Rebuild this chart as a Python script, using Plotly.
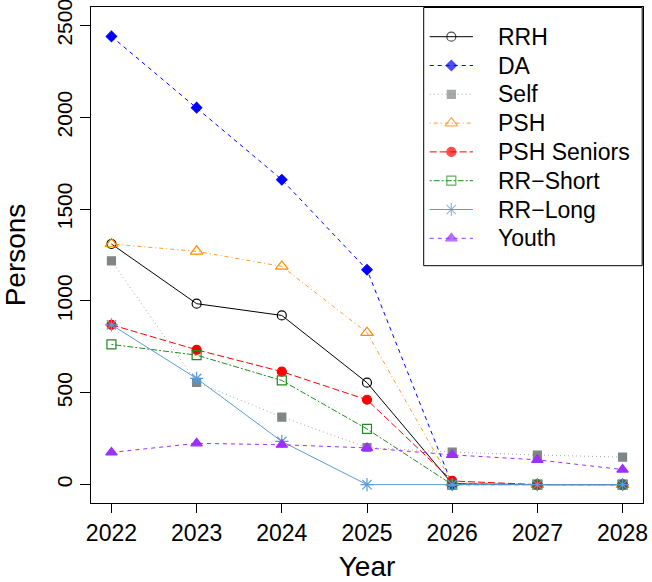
import plotly.graph_objects as go

years = [2022, 2023, 2024, 2025, 2026, 2027, 2028]

rrh = [1310, 985, 921, 555, 5, 0, 0]
da = [2440, 2052, 1660, 1170, 0, 0, 0]
self_res = [1218, 557, 368, 202, 177, 161, 150]
psh = [1310, 1270, 1188, 827, 10, 0, 0]
psh_seniors = [870, 734, 615, 462, 20, 0, 0]
rr_short = [763, 705, 567, 303, 0, 0, 0]
rr_long = [870, 578, 235, 0, 0, 0, 0]
youth = [175, 225, 217, 200, 162, 135, 82]

series_names = ["RRH", "DA", "Self", "PSH", "PSH Seniors", "RR\u2212Short", "RR\u2212Long", "Youth"]
series_values = [rrh, da, self_res, psh, psh_seniors, rr_short, rr_long, youth]

# (line colour, marker colour, dash pattern, marker symbol, marker size)
styles = [
    ("#000000", "#000000", "solid", "circle-open", 9),
    ("#0000FF", "#0000FF", "4px,4px", "diamond", 8),
    ("#A8A8A8", "#808585", "1px,3px", "square", 8),
    ("#FF9A30", "#FF8C00", "1px,3px,4px,3px", "triangle-up-open", 11),
    ("#FF0000", "#FF0000", "7px,3px", "circle", 9),
    ("#228B22", "#228B22", "2px,2px,6px,2px", "square-open", 9),
    ("#5B9BD5", "#5B9BD5", "solid", "asterisk-open", 11),
    ("#9B30FF", "#9B30FF", "4px,4px", "triangle-up", 10),
]

FONT = "Liberation Sans, Arial, Helvetica, sans-serif"

# plot region in pixels (left, right, top, bottom)
W, H = 652, 582
L, R, T, B = 91, 643.5, 7, 503

fig = go.Figure()
for name, vals, (lc, mc, dash, sym, size) in zip(series_names, series_values, styles):
    fig.add_trace(go.Scatter(
        x=years, y=vals, name=name, mode="lines+markers", showlegend=False,
        line=dict(color=lc, width=1, dash=dash),
        marker=dict(symbol=sym, size=size, color=mc,
                    line=dict(color=mc, width=1.2)),
    ))

# legend drawn on an overlay axis measured in pixels
leg_left, leg_right, leg_top, leg_bottom = 424, 642.7, 7.5, 265.7
row0, row_step = 36.7, 28.8
sample_x0, sample_x1, text_x = 430, 473.3, 496

fig.add_shape(type="rect", xref="x2", yref="y2",
              x0=leg_left, x1=leg_right, y0=leg_top, y1=leg_bottom,
              line=dict(color="black", width=1), fillcolor="white", layer="below")

for i, (name, (lc, mc, dash, sym, size)) in enumerate(zip(series_names, styles)):
    ry = row0 + i * row_step
    xm = (sample_x0 + sample_x1) / 2
    fig.add_trace(go.Scatter(
        x=[sample_x0, xm, sample_x1], y=[ry, ry, ry], xaxis="x2", yaxis="y2",
        mode="lines+markers", showlegend=False, hoverinfo="skip",
        line=dict(color=lc, width=1, dash=dash),
        marker=dict(symbol=sym, size=[0, size, 0], color=mc,
                    line=dict(color=mc, width=[0, 1.2, 0])),
    ))
    fig.add_annotation(x=text_x, y=ry, xref="x2", yref="y2", text=name,
                       showarrow=False, xanchor="left", yanchor="middle",
                       font=dict(size=23, color="black"))

fig.update_layout(
    width=W, height=H,
    margin=dict(l=L, r=W - R, t=T, b=H - B, autoexpand=False),
    paper_bgcolor="white", plot_bgcolor="white",
    font=dict(family=FONT, size=23, color="black"),
    showlegend=False,
    xaxis=dict(
        range=[2021.76, 2028.24], tickvals=years, ticktext=[str(y) for y in years],
        showgrid=False, zeroline=False, showline=True, mirror=True,
        linecolor="black", linewidth=1, ticks="outside", ticklen=9,
        tickcolor="black", automargin=False, ticklabeloverflow="allow",
        title=dict(text="Year", standoff=14),
    ),
    yaxis=dict(
        range=[-100, 2600], tickvals=[0, 500, 1000, 1500, 2000, 2500],
        showgrid=False, zeroline=False, showline=True, mirror=True,
        linecolor="black", linewidth=1, ticks="outside", ticklen=10,
        tickcolor="black", tickangle=-90, automargin=False,
        ticklabeloverflow="allow", tickfont=dict(size=21),
        title=dict(text="Persons", standoff=20),
    ),
    xaxis2=dict(range=[L, R], overlaying="x", anchor="y2", visible=False,
                fixedrange=True),
    yaxis2=dict(range=[B, T], overlaying="y", anchor="x2", visible=False,
                fixedrange=True),
)

fig.write_html("out.html")
